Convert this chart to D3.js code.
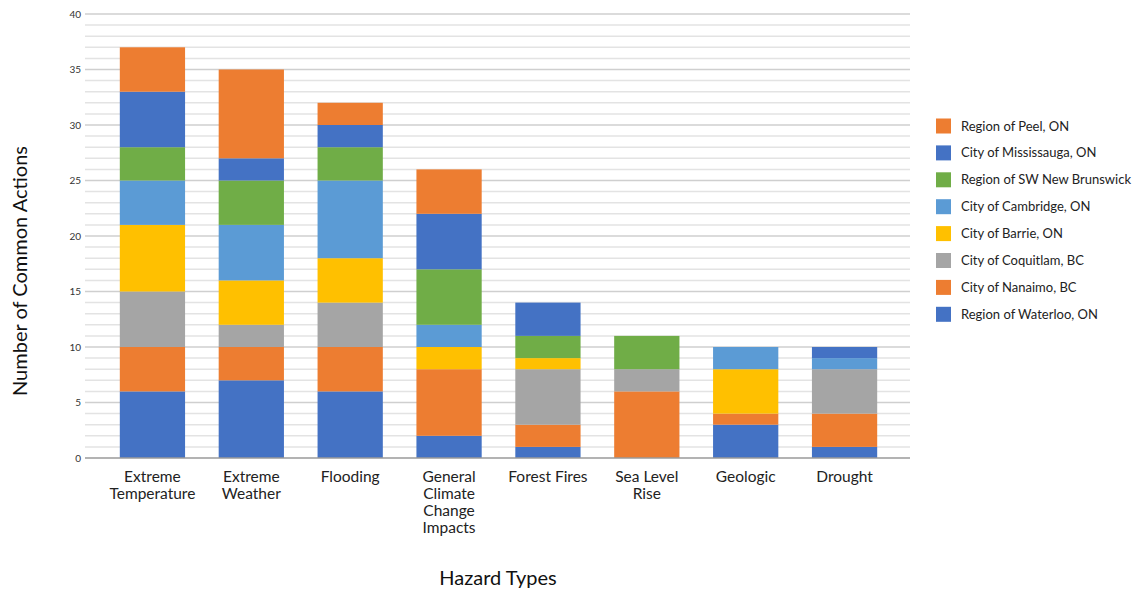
<!DOCTYPE html>
<html>
<head>
<meta charset="utf-8">
<script src="https://cdn.jsdelivr.net/npm/d3@7"></script>
<style>
  html, body { margin: 0; padding: 0; background: #fff; }
  svg { display: block; font-family: Lato, "Open Sans", sans-serif; }
</style>
</head>
<body>
<svg id="chart" width="1139" height="589"></svg>
<script>
// ---- data ----
const categories = ["Extreme Temperature", "Extreme Weather", "Flooding", "General Climate Change Impacts", "Forest Fires", "Sea Level Rise", "Geologic", "Drought"];
const categoryLines = [["Extreme", "Temperature"], ["Extreme", "Weather"], ["Flooding"], ["General", "Climate", "Change", "Impacts"], ["Forest Fires"], ["Sea Level", "Rise"], ["Geologic"], ["Drought"]];

// stacked bottom -> top
const seriesNames = ["Region of Waterloo, ON", "City of Nanaimo, BC", "City of Coquitlam, BC", "City of Barrie, ON", "City of Cambridge, ON", "Region of SW New Brunswick", "City of Mississauga, ON", "Region of Peel, ON"];
const waterloo    = [6, 7, 6, 2, 1, 0, 3, 1];
const nanaimo     = [4, 3, 4, 6, 2, 6, 1, 3];
const coquitlam   = [5, 2, 4, 0, 5, 2, 0, 4];
const barrie      = [6, 4, 4, 2, 1, 0, 4, 0];
const cambridge   = [4, 5, 7, 2, 0, 0, 2, 1];
const swnb        = [3, 4, 3, 5, 2, 3, 0, 0];
const mississauga = [5, 2, 2, 5, 3, 0, 0, 1];
const peel        = [4, 8, 2, 4, 0, 0, 0, 0];
const seriesValues = [waterloo, nanaimo, coquitlam, barrie, cambridge, swnb, mississauga, peel];
const seriesColors = ["#4472C4", "#ED7D31", "#A5A5A5", "#FFC000", "#5B9BD5", "#70AD47", "#4472C4", "#ED7D31"];

const yTicks = [0, 5, 10, 15, 20, 25, 30, 35, 40];
const yTitle = "Number of Common Actions";
const xTitle = "Hazard Types";

// ---- build table ----
const rows = categories.map((c, i) => {
  const r = { category: c };
  seriesNames.forEach((s, j) => { r[s] = seriesValues[j][i]; });
  return r;
});
const stacked = d3.stack().keys(seriesNames)(rows);

const svg = d3.select("#chart");
const gridLeft = 85, gridRight = 910;
const y = d3.scaleLinear().domain([0, 40]).range([458, 14]);
const x = d3.scaleBand().domain(categories).range([103, 894]).paddingInner(0.34).paddingOuter(0.17);

// gridlines
const minor = d3.range(1, 41).filter(v => v % 5 !== 0);
svg.append("g").selectAll("line").data(minor).join("line")
  .attr("x1", gridLeft).attr("x2", gridRight)
  .attr("y1", d => y(d)).attr("y2", d => y(d))
  .attr("stroke", "#e3e3e3").attr("stroke-width", 1.5);
svg.append("g").selectAll("line").data(yTicks.filter(v => v > 0)).join("line")
  .attr("x1", gridLeft).attr("x2", gridRight)
  .attr("y1", d => y(d)).attr("y2", d => y(d))
  .attr("stroke", "#cfcfcf").attr("stroke-width", 1.5);

// bars
svg.append("g").selectAll("g").data(stacked).join("g")
  .attr("fill", (d, i) => seriesColors[i])
  .selectAll("rect").data(d => d.filter(p => p[1] > p[0])).join("rect")
  .attr("x", d => x(d.data.category))
  .attr("width", x.bandwidth())
  .attr("y", d => y(d[1]))
  .attr("height", d => y(d[0]) - y(d[1]));

// baseline
svg.append("line").attr("x1", gridLeft).attr("x2", gridRight)
  .attr("y1", y(0)).attr("y2", y(0))
  .attr("stroke", "#9a9a9a").attr("stroke-width", 1.5);

// y axis
const yAxis = svg.append("g").attr("transform", `translate(${gridLeft - 4},0)`)
  .call(d3.axisLeft(y).tickValues(yTicks).tickSize(0).tickPadding(0));
yAxis.select(".domain").remove();
yAxis.selectAll("text").attr("font-size", 10).attr("fill", "#333").attr("font-family", "Lato, sans-serif");

// x axis
const xAxis = svg.append("g").attr("transform", `translate(0,${y(0)})`)
  .call(d3.axisBottom(x).tickSize(0).tickFormat(""));
xAxis.select(".domain").remove();
xAxis.selectAll(".tick").each(function (d, i) {
  const t = d3.select(this).append("text")
    .attr("fill", "#222").attr("font-size", 15.5).attr("text-anchor", "middle")
    .attr("font-family", "Lato, sans-serif");
  categoryLines[i].forEach((line, k) => {
    t.append("tspan").attr("x", 0).attr("y", 24 + k * 17).text(line);
  });
});

// titles
svg.append("text").attr("x", 498).attr("y", 585).attr("text-anchor", "middle")
  .attr("font-size", 20).attr("fill", "#111").text(xTitle);
svg.append("text").attr("transform", "translate(27,271) rotate(-90)").attr("text-anchor", "middle")
  .attr("font-size", 20).attr("fill", "#111").text(yTitle);

// legend (top -> bottom = reverse stack)
const legendOrder = d3.range(seriesNames.length).reverse();
const lg = svg.append("g").selectAll("g").data(legendOrder).join("g")
  .attr("transform", (d, k) => `translate(936,${126 + k * 26.9})`);
lg.append("rect").attr("x", 0).attr("y", -7.5).attr("width", 15).attr("height", 15)
  .attr("fill", d => seriesColors[d]);
lg.append("text").attr("x", 25).attr("y", 0).attr("dy", "0.35em")
  .attr("font-size", 13).attr("fill", "#222").text(d => seriesNames[d]);
</script>
</body>
</html>
